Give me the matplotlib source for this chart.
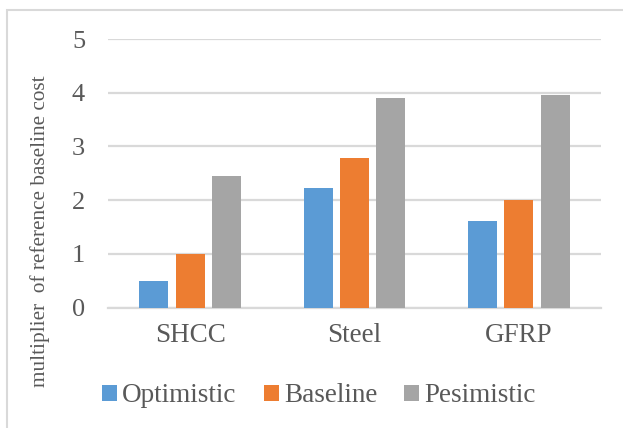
import numpy as np
import matplotlib.pyplot as plt
from matplotlib.patches import Rectangle

# cost multipliers per reinforcement type and scenario
materials = ['SHCC', 'Steel', 'GFRP']
optimistic = [0.5, 2.22, 1.61]
baseline = [1.0, 2.79, 2.0]
pesimistic = [2.45, 3.9, 3.95]
scenario_names = ['Optimistic', 'Baseline', 'Pesimistic']
y_ticks = [0, 1, 2, 3, 4, 5]

colors = ['#5B9BD5', '#ED7D31', '#A5A5A5']
text_color = '#595959'
grid_color = '#D9D9D9'

plt.rcParams['font.family'] = ['Liberation Serif', 'DejaVu Serif']

fig = plt.figure(figsize=(6.23, 4.28), dpi=100)
ax = fig.add_axes([108 / 623, 1 - 307.7 / 428, 493 / 623, (307.7 - 39) / 428])

x = np.arange(len(materials))
width = 0.175
step = 0.221
handles = []
for i, (vals, name) in enumerate(zip([optimistic, baseline, pesimistic], scenario_names)):
    h = ax.bar(x + (i - 1) * step, vals, width, color=colors[i], label=name, zorder=3)
    handles.append(h)

ax.set_xlim(-0.5, 2.5)
ax.set_ylim(0, 5)
ax.set_yticks(y_ticks)
ax.set_xticks(x)
ax.set_xticklabels(materials)
ax.yaxis.grid(True, color=grid_color, linewidth=1.6, zorder=0)
ax.set_axisbelow(True)
for side in ['top', 'right', 'left']:
    ax.spines[side].set_visible(False)
ax.spines['bottom'].set_color(grid_color)
ax.spines['bottom'].set_linewidth(1.6)
ax.spines['bottom'].set_zorder(0)
ax.tick_params(axis='y', length=0, pad=16.5, labelsize=19, labelcolor=text_color)
ax.tick_params(axis='x', length=0, pad=11, labelsize=19.5, labelcolor=text_color)

fig.text(40 / 623, 1 - 231 / 428, 'multiplier  of reference baseline cost',
         rotation=90, ha='center', va='center', fontsize=15.3, color=text_color)

fig.legend(handles=handles, loc='center', bbox_to_anchor=(319 / 623, 1 - 396 / 428),
           ncol=3, frameon=False, fontsize=19.5, labelcolor=text_color,
           handlelength=0.55, handleheight=0.55, handletextpad=0.2, columnspacing=1.0)

# outer chart border
fig.patches.append(Rectangle((6.5 / 623, -0.1), 1.0, 1 - 10 / 428 + 0.1,
                             transform=fig.transFigure, fill=False,
                             edgecolor=grid_color, linewidth=1.5))

fig.savefig('out.png', dpi=100)
